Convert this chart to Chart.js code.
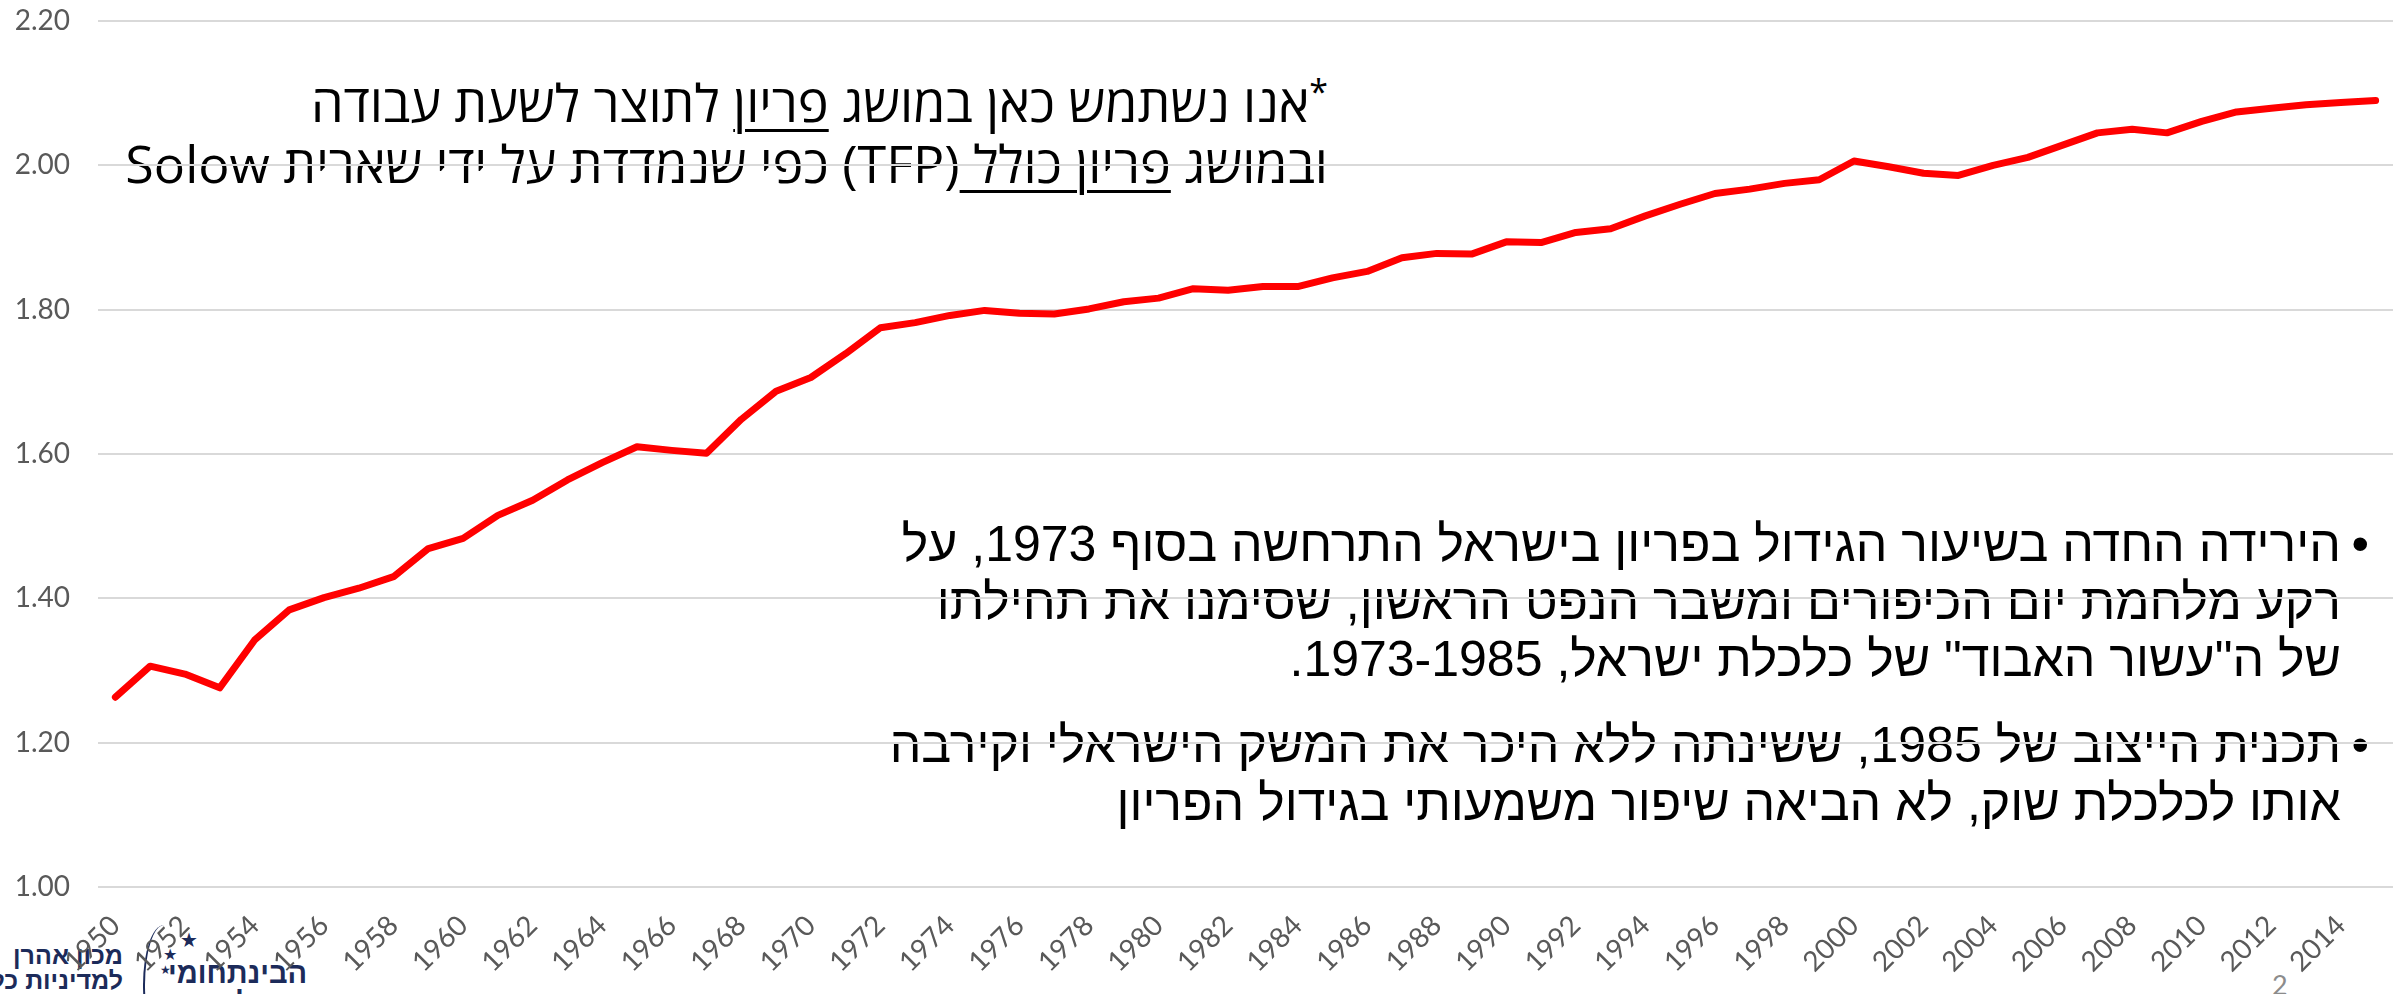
<!DOCTYPE html>
<html lang="he">
<head>
<meta charset="utf-8">
<title>פריון בישראל 1950-2015</title>
<script src="https://cdn.jsdelivr.net/npm/chart.js@4.4.1/dist/chart.umd.min.js"></script>
<style>
  html, body { margin: 0; padding: 0; background: #ffffff; }
  body { width: 2407px; height: 994px; position: relative; overflow: hidden; }
  #wrap { position: absolute; left: 0; top: 0; width: 2407px; height: 994px; z-index: 2; }
  .note { position: absolute; direction: rtl; white-space: nowrap; color: #000;
          font-family: "Open Sans", "Liberation Sans", "DejaVu Sans", sans-serif; font-size: 52px; line-height: 61px; }
  .note u { text-decoration-thickness: 3px; text-underline-offset: 7px; }
  .note sup { font-size: 34px; vertical-align: 18px; line-height: 0; }
  .bullets { position: absolute; direction: rtl; white-space: nowrap; color: #000;
             font-family: "Liberation Sans", Arial, "DejaVu Sans", sans-serif; font-size: 50px; line-height: 57.5px; }
  .bullets .dot { position: absolute; right: -28px; top: 0; }
  .logo { position: absolute; direction: rtl; white-space: nowrap; color: #1c2b5a; font-weight: bold;
          font-family: "Liberation Sans", "DejaVu Sans", sans-serif; z-index: 1; }
  .star { position: absolute; color: #1c2b5a; font-family: "DejaVu Sans", sans-serif; z-index: 1; }
  #arc { position: absolute; left: 143px; top: 925px; width: 40px; height: 120px; border-left: 2px solid #1c2b5a;
         border-radius: 50% 0 0 50%; z-index: 1; }
  #slideNo { position: absolute; left: 2272px; top: 968px; font-family: Lato, "Open Sans", sans-serif; font-size: 27px; color: #8c8c8c; }
</style>
</head>
<body>
<div id="wrap"><canvas id="chart"></canvas></div>

<!-- text boxes on top of the chart -->
<div class="note" style="right:1079px; top:71px;"><sup>*</sup>אנו נשתמש כאן במושג <u>פריון</u> לתוצר לשעת עבודה</div>
<div class="note" style="right:1079px; top:132px;">ובמושג <u>פריון כולל </u>(TFP) כפי שנמדדת על ידי שארית Solow</div>

<div class="bullets" style="right:66px; top:516px;">
  <span class="dot">•</span>
  הירידה החדה בשיעור הגידול בפריון בישראל התרחשה בסוף 1973, על<br>
  רקע מלחמת יום הכיפורים ומשבר הנפט הראשון, שסימנו את תחילתו<br>
  של ה"עשור האבוד" של כלכלת ישראל, 1973-1985.
</div>
<div class="bullets" style="right:66px; top:717px;">
  <span class="dot">•</span>
  תכנית הייצוב של 1985, ששינתה ללא היכר את המשק הישראלי וקירבה<br>
  אותו לכלכלת שוק, לא הביאה שיפור משמעותי בגידול הפריון
</div>

<!-- institute logo, bottom left (partly cut off) -->
<div class="logo" style="right:2284px; top:943px; font-size:25px; line-height:25px;">מכון אהרן<br>למדיניות כלכלית</div>
<div id="arc"></div>
<div class="star" style="left:180px; top:928px; font-size:20px;">★</div>
<div class="star" style="left:163px; top:945px; font-size:16px;">★</div>
<div class="star" style="left:160px; top:963px; font-size:12px;">★</div>
<div class="logo" style="left:168px; top:958px; font-size:29px; line-height:30px;">הבינתחומי<br>הרצליה</div>
<div id="slideNo">2</div>

<script>
// years on the category axis
const years = [
  '1950','1951','1952','1953','1954','1955','1956','1957','1958','1959',
  '1960','1961','1962','1963','1964','1965','1966','1967','1968','1969',
  '1970','1971','1972','1973','1974','1975','1976','1977','1978','1979',
  '1980','1981','1982','1983','1984','1985','1986','1987','1988','1989',
  '1990','1991','1992','1993','1994','1995','1996','1997','1998','1999',
  '2000','2001','2002','2003','2004','2005','2006','2007','2008','2009',
  '2010','2011','2012','2013','2014','2015'
];

// productivity index
const productivity = [
  1.263, 1.306, 1.295, 1.276, 1.342, 1.384, 1.401, 1.414, 1.430, 1.469,
  1.483, 1.515, 1.536, 1.564, 1.588, 1.610, 1.605, 1.601, 1.648, 1.687,
  1.706, 1.739, 1.775, 1.782, 1.792, 1.799, 1.795, 1.794, 1.801, 1.811,
  1.816, 1.829, 1.827, 1.832, 1.832, 1.844, 1.853, 1.872, 1.878, 1.877,
  1.894, 1.893, 1.907, 1.912, 1.930, 1.946, 1.961, 1.967, 1.975, 1.980,
  2.006, 1.998, 1.989, 1.986, 2.000, 2.011, 2.028, 2.045, 2.050, 2.045,
  2.061, 2.074, 2.079, 2.084, 2.087, 2.090
];

// labelled years on the x axis (every second year)
const xTickYears = [
  '1950','1952','1954','1956','1958','1960','1962','1964','1966','1968',
  '1970','1972','1974','1976','1978','1980','1982','1984','1986','1988',
  '1990','1992','1994','1996','1998','2000','2002','2004','2006','2008',
  '2010','2012','2014'
];

// y axis ticks
const yTicks = [1.0, 1.2, 1.4, 1.6, 1.8, 2.0, 2.2];

const tickColor = '#595959';

new Chart(document.getElementById('chart'), {
  type: 'line',
  data: {
    labels: years,
    datasets: [{
      data: productivity,
      borderColor: '#ff0000',
      borderWidth: 7,
      borderCapStyle: 'round',
      borderJoinStyle: 'round',
      pointRadius: 0,
      tension: 0,
      fill: false
    }]
  },
  options: {
    responsive: true,
    maintainAspectRatio: false,
    animation: false,
    devicePixelRatio: 1,
    layout: { padding: { left: 14, right: 14, top: 21, bottom: 0 } },
    plugins: { legend: { display: false }, tooltip: { enabled: false } },
    scales: {
      x: {
        offset: true,
        grid: { display: false, drawTicks: false },
        border: { display: false },
        ticks: {
          autoSkip: false,
          minRotation: 45,
          maxRotation: 45,
          padding: 22,
          color: tickColor,
          font: { family: 'Lato, "Open Sans", sans-serif', size: 28 },
          callback: function (value) {
            const y = this.getLabelForValue(value);
            return xTickYears.includes(y) ? y : '';
          }
        },
        afterFit: scale => { scale.height = 107; scale.paddingLeft = 0; scale.paddingRight = 0; }
      },
      y: {
        min: yTicks[0],
        max: yTicks[yTicks.length - 1],
        afterBuildTicks: scale => { scale.ticks = yTicks.map(v => ({ value: v })); },
        grid: { color: '#d9d9d9', lineWidth: 2, drawTicks: false },
        border: { display: false },
        ticks: {
          padding: 28,
          color: tickColor,
          font: { family: 'Lato, "Open Sans", sans-serif', size: 28 },
          callback: v => Number(v).toFixed(2)
        },
        afterFit: scale => { scale.width = 84; scale.paddingTop = 0; scale.paddingBottom = 0; }
      }
    }
  }
});
</script>
</body>
</html>
